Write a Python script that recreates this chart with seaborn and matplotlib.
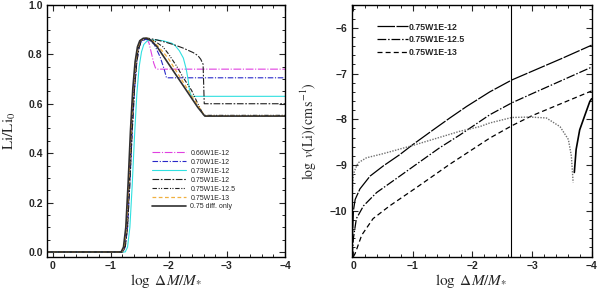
import matplotlib
matplotlib.use("Agg")
import matplotlib.pyplot as plt
from matplotlib.ticker import MultipleLocator, FixedLocator
from matplotlib.lines import Line2D
import seaborn as sns

# ---------------- data: left panel (Li/Li0 vs log dM/M*) ----------------
x_066 = [0.1, -1.19, -1.23, -1.27, -1.31, -1.35, -1.39, -1.43, -1.47, -1.51, -1.56, -1.62, -1.66, -1.70, -1.74, -1.77, -1.80, -4.0]
y_066 = [0, 0, 0.02, 0.10, 0.28, 0.49, 0.66, 0.77, 0.83, 0.855, 0.862, 0.862, 0.845, 0.805, 0.765, 0.745, 0.74, 0.74]

x_070 = [0.1, -1.21, -1.25, -1.29, -1.33, -1.37, -1.41, -1.45, -1.49, -1.53, -1.59, -1.65, -1.75, -1.85, -1.92, -1.96, -4.0]
y_070 = [0, 0, 0.02, 0.10, 0.28, 0.49, 0.66, 0.77, 0.83, 0.85, 0.86, 0.86, 0.84, 0.79, 0.74, 0.705, 0.705]

x_073 = [0.1, -1.25, -1.29, -1.33, -1.37, -1.41, -1.45, -1.49, -1.53, -1.57, -1.63, -1.70, -1.80, -1.90, -1.96, -2.05, -2.11, -2.18, -2.25, -2.30, -2.33, -2.36, -2.39, -4.0]
y_073 = [0, 0, 0.02, 0.10, 0.27, 0.47, 0.64, 0.75, 0.81, 0.84, 0.855, 0.858, 0.858, 0.855, 0.851, 0.845, 0.835, 0.815, 0.785, 0.74, 0.70, 0.65, 0.63, 0.63]

x_075_12 = [0.1, -1.21, -1.25, -1.29, -1.33, -1.37, -1.41, -1.45, -1.49, -1.53, -1.59, -1.65, -1.80, -1.96, -2.10, -2.25, -2.42, -2.50, -2.55, -2.59, -2.61, -4.0]
y_075_12 = [0, 0, 0.02, 0.10, 0.28, 0.49, 0.66, 0.77, 0.83, 0.855, 0.865, 0.865, 0.858, 0.848, 0.838, 0.825, 0.807, 0.795, 0.78, 0.76, 0.60, 0.60]

x_075_125 = [0.1, -1.20, -1.24, -1.28, -1.32, -1.36, -1.40, -1.44, -1.48, -1.52, -1.58, -1.64, -1.75, -1.90, -2.00, -2.14, -2.25, -2.39, -2.50, -2.60, -4.0]
y_075_125 = [0, 0, 0.02, 0.10, 0.28, 0.49, 0.66, 0.77, 0.83, 0.855, 0.862, 0.862, 0.855, 0.83, 0.80, 0.75, 0.705, 0.655, 0.60, 0.553, 0.553]

x_075_13 = [0.1, -1.19, -1.23, -1.27, -1.31, -1.35, -1.39, -1.43, -1.47, -1.51, -1.57, -1.63, -1.75, -1.90, -2.00, -2.20, -2.40, -2.62, -4.0]
y_075_13 = [0, 0, 0.02, 0.10, 0.28, 0.49, 0.66, 0.77, 0.83, 0.855, 0.865, 0.865, 0.85, 0.81, 0.78, 0.705, 0.63, 0.55, 0.55]

x_diff = [0.1, -1.18, -1.22, -1.26, -1.30, -1.34, -1.38, -1.42, -1.46, -1.50, -1.56, -1.62, -1.70, -1.80, -1.90, -2.00, -2.10, -2.20, -2.30, -2.40, -2.50, -2.62, -4.0]
y_diff = [0, 0, 0.02, 0.10, 0.28, 0.49, 0.66, 0.77, 0.83, 0.855, 0.865, 0.865, 0.855, 0.83, 0.795, 0.76, 0.725, 0.69, 0.655, 0.62, 0.585, 0.55, 0.55]

left_labels = ["0.66W1E-12", "0.70W1E-12", "0.73W1E-12", "0.75W1E-12",
               "0.75W1E-12.5", "0.75W1E-13", "0.75 diff. only"]

# ---------------- data: right panel (log v(Li)) ----------------
x_v12 = [0.02, 0.01, 0.0, -0.03, -0.11, -0.28, -0.5, -0.78, -1.0, -1.34, -1.62, -1.9, -2.29, -2.66, -3.0, -3.5, -4.0]
y_v12 = [-10.8, -10.4, -10.0, -9.75, -9.52, -9.24, -9.02, -8.77, -8.55, -8.23, -7.97, -7.72, -7.40, -7.14, -6.95, -6.67, -6.38]

x_v125 = [0.02, 0.0, -0.05, -0.17, -0.39, -0.78, -1.06, -1.45, -1.79, -2.29, -2.66, -3.0, -3.5, -4.0]
y_v125 = [-11.0, -10.6, -10.17, -9.89, -9.6, -9.24, -8.98, -8.62, -8.34, -7.90, -7.64, -7.44, -7.15, -6.86]

x_v13 = [0.0, -0.03, -0.14, -0.33, -0.61, -1.06, -1.62, -2.29, -2.66, -3.0, -3.5, -4.0]
y_v13 = [-11.0, -10.93, -10.53, -10.17, -9.89, -9.49, -8.98, -8.41, -8.14, -7.92, -7.65, -7.38]

x_vdot = [0.03, 0.02, 0.0, -0.03, -0.08, -0.22, -0.5, -1.0, -1.79, -2.12, -2.29, -2.66, -2.96, -3.24, -3.47, -3.61, -3.66, -3.69]
y_vdot = [-10.5, -9.6, -9.2, -9.09, -8.95, -8.84, -8.75, -8.57, -8.26, -8.16, -8.08, -7.96, -7.95, -7.97, -8.16, -8.44, -8.8, -9.38]

x_vneg = [-3.71, -3.74, -3.80, -3.89, -3.97, -4.0]
y_vneg = [-9.16, -8.66, -8.23, -7.90, -7.61, -7.55]

x_vline = -2.65
right_labels = ["0.75W1E-12", "0.75W1E-12.5", "0.75W1E-13"]

# ---------------- style ----------------
sns.set_style("ticks")
plt.rcParams.update({
    "font.family": ["Liberation Sans", "DejaVu Sans"],
    "mathtext.fontset": "stix",
    "xtick.direction": "in", "ytick.direction": "in",
    "xtick.top": True, "ytick.right": True,
    "xtick.major.size": 4, "ytick.major.size": 4,
    "xtick.minor.size": 2, "ytick.minor.size": 2,
    "xtick.major.width": 0.8, "ytick.major.width": 0.8,
    "xtick.minor.width": 0.7, "ytick.minor.width": 0.7,
    "axes.linewidth": 1.0,
    "axes.edgecolor": "black",
})

fig = plt.figure(figsize=(6.0, 2.89), dpi=100)
ax1 = fig.add_axes([0.078, 0.111, 0.397, 0.872])
ax2 = fig.add_axes([0.586, 0.112, 0.400, 0.871])

def draw(ax, xs, ys, color, ls, lw):
    sns.lineplot(x=xs, y=ys, ax=ax, sort=False, estimator=None,
                 color=color, linestyle=ls, linewidth=lw)

left_series = [
    (x_066, y_066, "#e040e0", (0, (7, 1.5, 1, 1.5)), 0.8),
    (x_070, y_070, "#2828c8", (0, (5, 1.5, 1, 1.5)), 0.8),
    (x_073, y_073, "#30e0e0", "-", 0.8),
    (x_075_12, y_075_12, "#202020", (0, (6, 1.5, 1.5, 1.5)), 0.8),
    (x_075_125, y_075_125, "#202020", (0, (4, 1.5, 1, 1.2, 1, 1.5)), 0.8),
    (x_075_13, y_075_13, "#f0b040", (0, (3, 2)), 0.9),
    (x_diff, y_diff, "#303030", "-", 1.2),
]
for xs, ys, c, ls, lw in left_series:
    draw(ax1, xs, ys, c, ls, lw)

ax1.set_xlim(0.1, -4)
ax1.set_ylim(-0.02, 1.0)
ax1.xaxis.set_major_locator(FixedLocator([0, -1, -2, -3, -4]))
ax1.xaxis.set_minor_locator(MultipleLocator(0.2))
ax1.set_xticklabels(["0", "\u22121", "\u22122", "\u22123", "\u22124"])
ax1.set_yticks([0, 0.2, 0.4, 0.6, 0.8, 1.0])
ax1.set_yticklabels(["0.0", "0.2", "0.4", "0.6", "0.8", "1.0"])
ax1.yaxis.set_minor_locator(MultipleLocator(0.05))
ax1.set_xlabel(r"$\log\ \Delta M/M_{*}$", fontsize=11, labelpad=1)
ax1.set_ylabel(r"$\mathrm{Li/Li_0}$", fontsize=11)
ax1.yaxis.set_label_coords(-0.12, 0.5)

handles1 = [Line2D([], [], color=c, linestyle=ls, linewidth=lw) for _, _, c, ls, lw in left_series]
leg1 = ax1.legend(handles1, left_labels, loc="upper left", bbox_to_anchor=(0.44, 0.425),
                  frameon=False, fontsize=5.0, handlelength=5.0, handletextpad=0.6,
                  labelspacing=0.28, borderaxespad=0, borderpad=0)

right_series = [
    (x_v12, y_v12, "black", (0, (14, 1.2)), 0.9),
    (x_v125, y_v125, "black", (0, (7, 1.5, 1.2, 1.5)), 0.9),
    (x_v13, y_v13, "black", (0, (4, 2.5)), 0.9),
]
for xs, ys, c, ls, lw in right_series:
    draw(ax2, xs, ys, c, ls, lw)
draw(ax2, x_vdot, y_vdot, "#707070", (0, (1, 1)), 1.0)
draw(ax2, x_vneg, y_vneg, "black", "-", 1.2)
ax2.axvline(x_vline, color="black", linewidth=0.8)

ax2.set_xlim(0.03, -4)
ax2.set_ylim(-11, -5.5)
ax2.xaxis.set_major_locator(FixedLocator([0, -1, -2, -3, -4]))
ax2.xaxis.set_minor_locator(MultipleLocator(0.2))
ax2.set_xticklabels(["0", "\u22121", "\u22122", "\u22123", "\u22124"])
ax2.set_yticks([-10, -9, -8, -7, -6])
ax2.set_yticklabels(["\u221210", "\u22129", "\u22128", "\u22127", "\u22126"])
ax2.yaxis.set_minor_locator(MultipleLocator(0.2))
ax2.set_xlabel(r"$\log\ \Delta M/M_{*}$", fontsize=11, labelpad=1)
ax2.set_ylabel(r"$\log\ v(\mathrm{Li})(\mathrm{cm\,s^{-1}})$", fontsize=10)
ax2.yaxis.set_label_coords(-0.135, 0.5)

handles2 = [Line2D([], [], color=c, linestyle=ls, linewidth=lw) for _, _, c, ls, lw in right_series]
leg2 = ax2.legend(handles2, right_labels, loc="upper left", bbox_to_anchor=(0.105, 0.93),
                  frameon=False, prop={"family": "Liberation Sans", "size": 6.3, "weight": "bold"},
                  handlelength=3.6, handletextpad=0.05, labelspacing=0.45,
                  borderaxespad=0, borderpad=0)

for ax in (ax1, ax2):
    for lab in ax.get_xticklabels() + ax.get_yticklabels():
        lab.set_fontsize(7.5)
        lab.set_fontweight("bold")
    ax.tick_params(which="both", top=True, right=True, pad=3)
    for s in ax.spines.values():
        s.set_visible(True)
        s.set_color("black")

fig.savefig("out.png", dpi=100)
